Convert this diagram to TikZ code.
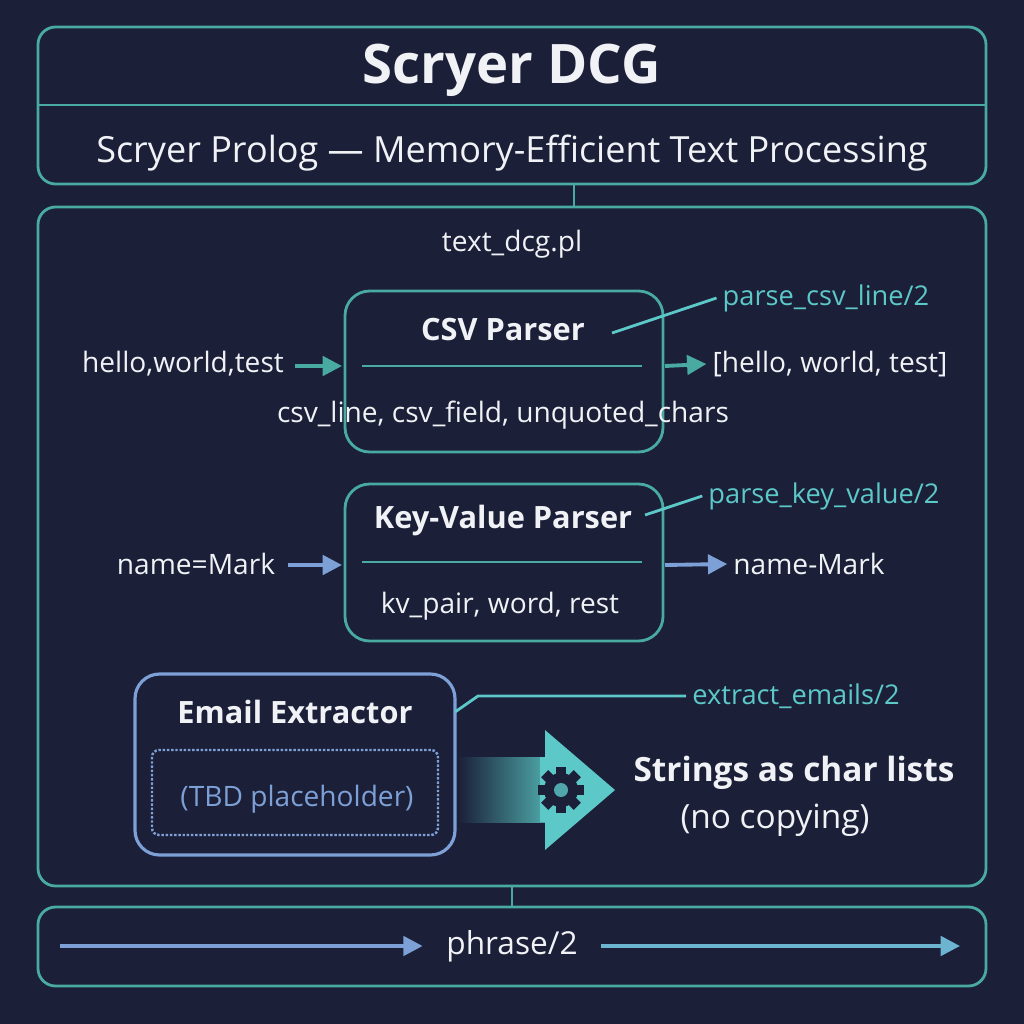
\documentclass[tikz,border=0pt]{standalone}
\usepackage{fontspec}
\setmainfont{Open Sans}
\usetikzlibrary{shapes,arrows,positioning,arrows.meta}
\definecolor{bgnavy}{RGB}{27,31,56}
\definecolor{boxteal}{RGB}{72,170,160}
\definecolor{labteal}{RGB}{92,200,200}
\definecolor{mailblue}{RGB}{125,160,215}
\definecolor{txtwhite}{RGB}{240,242,246}
\tikzset{
  frame/.style={draw=boxteal, line width=1.6pt, rounded corners=10pt},
  parser/.style={draw=boxteal, line width=1.6pt, rounded corners=14pt},
  body/.style={text=txtwhite, font=\fontsize{16}{19}\selectfont},
  tag/.style={text=labteal, font=\fontsize{15.5}{18}\selectfont},
  head/.style={text=txtwhite, font=\fontsize{17.5}{20}\selectfont\bfseries},
  flow/.style={-{Triangle[length=11pt,width=11pt]}, line width=2.2pt},
}
\begin{document}
\begin{tikzpicture}[x=0.02cm,y=-0.02cm]
\fill[bgnavy] (0,0) rectangle (1024,1024);
\useasboundingbox (0,0) rectangle (1024,1024);

% Title block
\draw[frame] (38,27) rectangle (986,184);
\draw[boxteal, line width=1.6pt] (38,105) -- (986,105);
\node[text=txtwhite, font=\fontsize{31}{36}\selectfont\bfseries] (title) at (512,70) {Scryer DCG};
\node[text=txtwhite, font=\fontsize{20.5}{24}\selectfont] (subtitle) at (512,153) {Scryer Prolog — Memory-Efficient Text Processing};
\coordinate (ttop) at (574,184);
\coordinate (mtop) at (574,207);
\draw[boxteal, line width=1.6pt] (ttop) -- (mtop);

% Main block
\draw[frame] (38,207) rectangle (986,886);
\node[body] (file) at (512,244) {text\_dcg.pl};

% CSV parser
\draw[parser] (345,291) rectangle (663,452);
\coordinate (csvw) at (342,366);
\coordinate (csve) at (665,366);
\node[head] (csv) at (503,330) {CSV Parser};
\draw[boxteal, line width=1.6pt] (362,366) -- (642,366);
\node[body] (csvrules) at (503,415) {csv\_line, csv\_field, unquoted\_chars};
\node[tag] (csvtag) at (826,298) {parse\_csv\_line/2};
\draw[labteal, line width=1.6pt] (612,333) -- (csvtag.west);
\node[body] (csvin) at (183,364) {hello,world,test};
\node[body] (csvout) at (830,364) {[hello, world, test]};
\coordinate (csvs) at (295,366);
\draw[flow, boxteal] (csvs) -- (csvw);
\draw[flow, boxteal] (csve) -- (csvout.west);

% Key-value parser
\draw[parser] (345,484) rectangle (663,641);
\coordinate (kvw) at (342,565);
\coordinate (kve) at (665,565);
\node[head] (kv) at (503,521) {Key-Value Parser};
\draw[boxteal, line width=1.6pt] (362,562) -- (642,562);
\node[body] (kvrules) at (500,606) {kv\_pair, word, rest};
\node[tag] (kvtag) at (824,496) {parse\_key\_value/2};
\draw[labteal, line width=1.6pt] (645,515) -- (kvtag.west);
\node[body] (kvin) at (196,564) {name=Mark};
\node[body] (kvout) at (809,564) {name-Mark};
\coordinate (kvs) at (288,565);
\draw[flow, mailblue] (kvs) -- (kvw);
\draw[flow, mailblue] (kve) -- (kvout.west);

% Email extractor
\draw[draw=mailblue, line width=1.8pt, rounded corners=14pt] (135,674) rectangle (455,855);
\node[head] (mail) at (295,712) {Email Extractor};
\draw[mailblue, densely dotted, line width=1.4pt, rounded corners=4pt] (152,750) rectangle (438,835);
\node[text=mailblue, font=\fontsize{16}{19}\selectfont] (tbd) at (297,799) {(TBD placeholder)};
\node[tag] (mailtag) at (796,696) {extract\_emails/2};
\draw[labteal, line width=1.6pt] (455,712) -- (478,696) -- (mailtag.west);

% Big arrow with gear
\shade[left color=bgnavy, right color=labteal!85!black] (458,757) rectangle (548,822);
\fill[labteal] (545,730) -- (615,790) -- (545,850) -- cycle;
\fill[labteal] (540,757) rectangle (548,822);
\foreach \a in {0,45,...,315}
  \fill[bgnavy, rotate around={\a:(561,790)}] (556,767) rectangle (566,780);
\fill[bgnavy] (561,790) circle (17);
\fill[labteal!80!bgnavy] (561,790) circle (7);
\node[text=txtwhite, font=\fontsize{19}{23}\selectfont\bfseries] (str1) at (794,773) {Strings as char lists};
\node[text=txtwhite, font=\fontsize{19}{23}\selectfont] (str2) at (775,820) {(no copying)};

% Bottom block
\coordinate (mbot) at (512,886);
\coordinate (bbot) at (512,907);
\draw[boxteal, line width=1.6pt] (mbot) -- (bbot);
\draw[frame] (38,907) rectangle (986,986);
\node[text=txtwhite, font=\fontsize{18}{22}\selectfont] (phrase) at (512,946) {phrase/2};
\coordinate (pa) at (60,946);
\coordinate (pb) at (960,946);
\draw[flow, draw=mailblue, fill=boxteal] (pa) -- ([xshift=-10pt]phrase.west);
\draw[flow, draw=mailblue!50!labteal] ([xshift=10pt]phrase.east) -- (pb);
\end{tikzpicture}
\end{document}
